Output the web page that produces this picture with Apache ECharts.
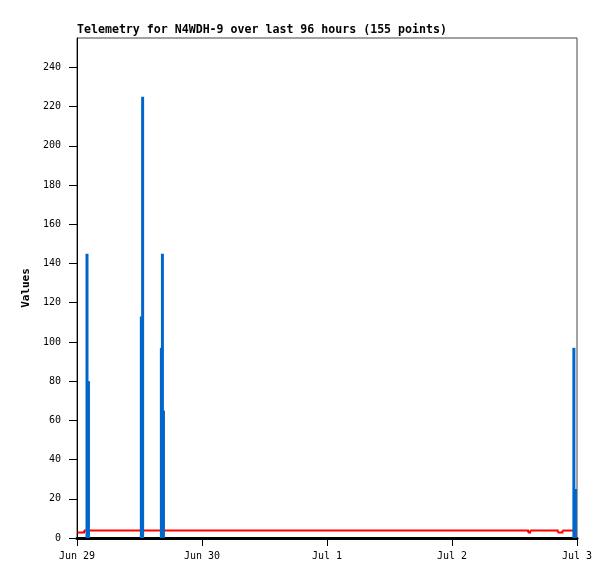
<!DOCTYPE html>
<html>
<head>
<meta charset="utf-8">
<script src="https://cdn.jsdelivr.net/npm/echarts@6/dist/echarts.min.js"></script>
<style>
html,body{margin:0;padding:0;background:#fff;}
#chart{width:615px;height:579px;}
</style>
</head>
<body>
<div id="chart"></div>
<script>
// Hours since Jun 29 00:00
var xTickHours = [0, 24, 48, 72, 96];
var xTickLabels = ['Jun 29', 'Jun 30', 'Jul 1', 'Jul 2', 'Jul 3'];
var yTickValues = [0, 20, 40, 60, 80, 100, 120, 140, 160, 180, 200, 220, 240];

// Blue impulse series (hour, value)
var blueHours  = [1.92, 2.2, 12.35, 12.6, 16.2, 16.4, 16.6, 95.4, 95.7];
var blueValues = [145, 80, 113, 225, 97, 145, 65, 97, 25];

// Red step series (hour, value)
var redHours  = [0.1, 1.35, 86.6, 87.0, 92.3, 93.2, 95.8];
var redValues = [2.8, 3.8, 2.8, 3.8, 2.8, 3.8, 3.8];

// each step segment: [x, y, nextX, nextY]
var redSegments = [];
for (var i = 0; i < redHours.length - 1; i++) {
  redSegments.push([redHours[i], redValues[i], redHours[i + 1], redValues[i + 1]]);
}

var chart = echarts.init(document.getElementById('chart'), null, {renderer: 'canvas'});
var mono = 'DejaVu Sans Mono';

var option = {
  animation: false,
  backgroundColor: '#ffffff',
  title: {
    text: 'Telemetry for N4WDH-9 over last 96 hours (155 points)',
    left: 77,
    top: 24,
    padding: 0,
    textStyle: {fontFamily: mono, fontSize: 11.6, fontWeight: 'bold', color: '#000'}
  },
  grid: {
    left: 77, right: 38, top: 38, bottom: 41,
    show: true, borderColor: '#444', borderWidth: 1, backgroundColor: 'transparent'
  },
  xAxis: {
    type: 'value',
    min: 0, max: 96, interval: 24,
    axisLine: {show: true, onZero: false, lineStyle: {color: '#000', width: 3}},
    axisTick: {show: true, length: 8, inside: false, lineStyle: {color: '#000', width: 1}},
    splitLine: {show: false},
    axisLabel: {
      margin: 13,
      fontFamily: mono, fontSize: 10, color: '#000',
      formatter: function (v) {
        var i = xTickHours.indexOf(v);
        return i >= 0 ? xTickLabels[i] : '';
      }
    }
  },
  yAxis: {
    type: 'value',
    min: 0, max: 255,
    name: 'Values',
    nameLocation: 'middle',
    nameGap: 41,
    nameRotate: 90,
    nameTextStyle: {fontFamily: mono, fontSize: 11, fontWeight: 'bold', color: '#000'},
    axisLine: {show: true, onZero: false, lineStyle: {color: '#000', width: 1}},
    axisTick: {show: true, length: 8, customValues: yTickValues, lineStyle: {color: '#000', width: 1}},
    splitLine: {show: false},
    axisLabel: {
      margin: 16, customValues: yTickValues,
      fontFamily: mono, fontSize: 10, color: '#000'
    }
  },
  series: [
    {
      type: 'custom',
      z: 1,
      clip: true,
      encode: {x: [0, 2], y: [1, 3]},
      data: redSegments,
      renderItem: function (params, api) {
        var x0 = api.value(0), y0 = api.value(1), x1 = api.value(2), y1 = api.value(3);
        var p0 = api.coord([x0, y0]);
        var p1 = api.coord([x1, y0]);
        var p2 = api.coord([x1, y1]);
        return {
          type: 'polyline',
          shape: {points: [p0, p1, p2]},
          style: {stroke: '#ff0000', lineWidth: 2, fill: null}
        };
      }
    },
    {
      type: 'bar',
      z: 3,
      barWidth: 3,
      barGap: '-100%',
      itemStyle: {color: '#0066cc'},
      data: blueHours.map(function (h, i) { return [h, blueValues[i]]; })
    }
  ]
};
chart.setOption(option);
</script>
</body>
</html>
